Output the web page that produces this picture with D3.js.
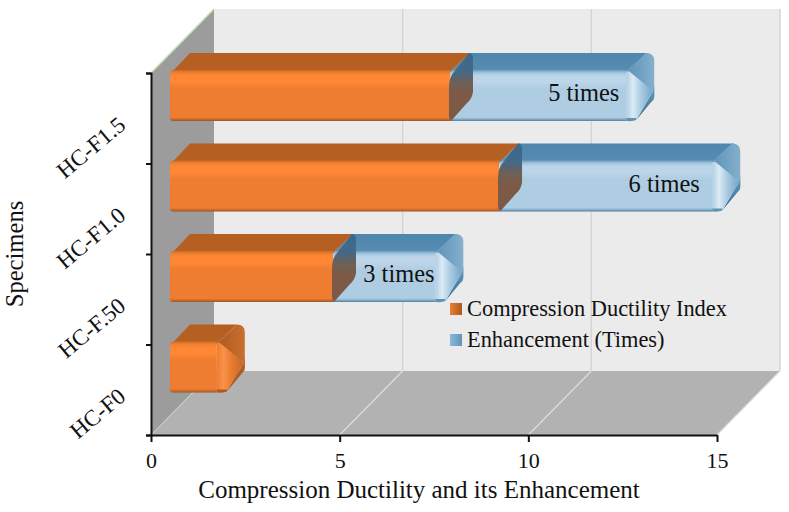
<!DOCTYPE html>
<html><head><meta charset="utf-8">
<script src="https://cdn.jsdelivr.net/npm/d3@7"></script>
<style>html,body{margin:0;padding:0;background:#fff}svg{display:block}text{font-family:"Liberation Serif","Times New Roman",serif;fill:#111}</style>
</head><body><svg id="c" width="789" height="512"></svg>
<script>
const categories=["HC-F1.5","HC-F1.0","HC-F.50","HC-F0"];
const ductility=[7.42,8.72,4.32,1.4];
const enhancement=[4.83,5.81,2.87,0];
const barLabels=["5 times","6 times","3 times",""];
const labelCentres=[11.47,13.6,6.57,0];
const xTicks=[0,5,10,15];
const seriesNames=["Compression Ductility Index","Enhancement (Times)"];
const x=d3.scaleLinear().domain([0,15]).range([151,717]);
const y=d3.scaleBand().domain(categories).range([73,435]);
const DX=63,DY=64,bdx=20,bdy=17,bo=19;
const svg=d3.select("#c");
const defs=svg.append("defs");
defs.append("filter").attr("id","soft").attr("x","-5%").attr("y","-5%").attr("width","110%").attr("height","110%")
  .append("feGaussianBlur").attr("stdDeviation",0.7);
function lg(id,stops,vert=true){const g=defs.append("linearGradient").attr("id",id).attr("x1",0).attr("y1",0).attr("x2",vert?0:1).attr("y2",vert?1:0);
 stops.forEach(s=>g.append("stop").attr("offset",s[0]).attr("stop-color",s[1]));}
lg("oF",[[0,"#c96c2a"],[.06,"#f4812f"],[.12,"#ff8734"],[.24,"#ff8734"],[.36,"#ee7d31"],[.93,"#ee7d31"],[.98,"#bb6226"],[1,"#96522a"]]);
lg("oT",[[0,"#b55e22"],[.85,"#b55e22"],[1,"#c96c2a"]]);
lg("bF",[[0,"#6b9dc0"],[.06,"#a6c7e0"],[.12,"#bcd5e8"],[.24,"#bcd5e8"],[.36,"#aecde3"],[.93,"#aecde3"],[.98,"#6f9cbc"],[1,"#4a7a9c"]]);
lg("bT",[[0,"#4f86ad"],[.85,"#568bb2"],[1,"#6b9dc0"]]);
lg("cap",[[0,"#3c6a8c"],[.25,"#41698a"],[.45,"#6f6055"],[.6,"#7b5a46"],[1,"#7b5a46"]]);
lg("oS",[[0,"#ee7d31"],[.25,"#fb9148"],[.55,"#e97b30"],[1,"#c2672a"]],false);
lg("bS",[[0,"#aecde3"],[.25,"#dcebf5"],[.55,"#a9cbe2"],[1,"#74a4c5"]],false);
lg("oU",[[0,"#ad5a22"],[1,"#c9702e"]],false);
lg("bU",[[0,"#5c92b8"],[1,"#85b0cc"]],false);
lg("oR",[[0,"#bb6426"],[1,"#a05420"]]);
lg("bR",[[0,"#6a9dbf"],[1,"#336a90"]]);

const bx0=x(0)+DX,bx1=x(15)+DX,by0=y.range()[0]-DY,by1=y.range()[1]-DY,fy=y.range()[1];
const poly=p=>"M"+p.join("L")+"Z";
svg.append("path").attr("d",poly([[bx0,by0],[bx1,by0],[bx1,by1],[bx0,by1]])).attr("fill","#ebebeb");
svg.append("path").attr("d",poly([[x(0),y.range()[0]],[bx0,by0],[bx0,by1],[x(0),fy]])).attr("fill","#9c9c9c");
svg.append("path").attr("d",poly([[x(0),fy],[bx0,by1],[bx1,by1],[x(15),fy]])).attr("fill","#b2b2b2");
xTicks.forEach(t=>{
  if(t>0){
    svg.append("line").attr("x1",x(t)+DX).attr("x2",x(t)+DX).attr("y1",by0).attr("y2",by1).attr("stroke","#d4d4d4").attr("stroke-width",1.4);
    svg.append("line").attr("x1",x(t)).attr("y1",fy).attr("x2",x(t)+DX).attr("y2",by1).attr("stroke","#dedede").attr("stroke-width",1.2);
  }
});
svg.append("line").attr("x1",x(0)).attr("y1",y.range()[0]).attr("x2",bx0).attr("y2",by0).attr("stroke","#c5e0b4").attr("stroke-width",1.4);
svg.append("line").attr("x1",x(0)).attr("y1",fy).attr("x2",bx0).attr("y2",by1).attr("stroke","#c5e0b4").attr("stroke-width",1);

const bp=v=>x(v)+bo;
const H=51;
function seg(g,a,b,t,front,top,roundLeft){
  const bot=t+H;
  const topPath=roundLeft
    ?`M${a+2},${t+2}L${a+bdx},${t-bdy}L${b+bdx},${t-bdy}L${b},${t+2}Z`
    :`M${a},${t+2}L${a+bdx},${t-bdy}L${b+bdx},${t-bdy}L${b},${t+2}Z`;
  g.append("path").attr("d",topPath).attr("fill",`url(#${top})`);
  const frontPath=roundLeft
    ?`M${a+4},${t}L${b},${t}L${b},${bot}L${a+3},${bot}Q${a},${bot} ${a},${bot-3}L${a},${t+5}Q${a},${t} ${a+4},${t}Z`
    :`M${a},${t}L${b},${t}L${b},${bot}L${a},${bot}Z`;
  g.append("path").attr("d",frontPath).attr("fill",`url(#${front})`);
}
function endCap(g,b,t,c){
  const bot=t+H,e=b+bdx+2,cx=e-1,cy=t+21;
  g.append("path").attr("d",`M${b-6},${t+2}L${e-8},${t-bdy}Q${e},${t-bdy} ${e},${t-bdy+8}L${e},${cy+6}L${cx},${cy}Z`).attr("fill",`url(#${c.up})`);
  g.append("path").attr("d",`M${cx},${cy}L${e},${cy-6}L${e},${cy+6}Q${e},${cy+9} ${e-3},${cy+11}L${b+4},${bot-1}Z`).attr("fill",`url(#${c.right})`);
  g.append("path").attr("d",`M${b-6},${t+2}Q${b-3},${t} ${b-1},${t+3}L${cx},${cy}L${b+4},${bot-1}Q${b},${bot+0.5} ${b-4},${bot}L${b-6},${bot}Z`).attr("fill",`url(#${c.side})`);
  g.append("path").attr("d",`M${b-6},${bot-3}L${b+4},${bot-3}L${b+4},${bot-1}Q${b},${bot+0.5} ${b-4},${bot}L${b-6},${bot}Z`).attr("fill",c.low);
}
const orangeCap={up:"oU",right:"oR",side:"oS",low:"#a85a24"};
const blueCap={up:"bU",right:"bR",side:"bS",low:"#5f92b5"};
categories.forEach((c,i)=>{
  const top=y(c)-3;
  const g=svg.append("g").attr("filter","url(#soft)");
  const a=bp(0),m=bp(ductility[i]),z=bp(ductility[i]+enhancement[i]);
  if(enhancement[i]>0){
    seg(g,m,z-6,top,"bF","bT",false);
    g.append("path").attr("d",`M${z-6},${top+2}L${z-6+bdx},${top-bdy}L${z-4+bdx},${top-bdy}L${z-6},${top+2}Z`).attr("fill","url(#bT)");
    endCap(g,z,top,blueCap);
    seg(g,a,m,top,"oF","oT",true);
    g.append("path").attr("d",`M${m+1},${top+H}Q${m-1},${top+H-2} ${m-1},${top+H-5}L${m-1},${top+18}Q${m-1},${top+7} ${m+4},${top+2}L${m+bdx-1},${top-bdy}Q${m+bdx+3},${top-bdy} ${m+bdx+3},${top-bdy+5}L${m+bdx+3},${top+22}Q${m+bdx+2},${top+29} ${m+bdx-3},${top+33}Z`).attr("fill","url(#cap)");
  } else {
    seg(g,a,m-6,top,"oF","oT",true);
    endCap(g,m,top,orangeCap);
  }
  if(barLabels[i]) svg.append("text").attr("x",x(labelCentres[i])).attr("y",top+31).attr("text-anchor","middle").attr("font-size",24.4).text(barLabels[i]);
});

const gx=svg.append("g").attr("transform",`translate(0,${fy})`).call(d3.axisBottom(x).tickValues(xTicks).tickSize(7).tickSizeOuter(0));
gx.selectAll("path,line").attr("stroke","#111").attr("stroke-width",2);
gx.selectAll("text").attr("font-size",22).attr("font-family","Liberation Serif").attr("y",23).attr("dy","10");
const gy=svg.append("g").attr("transform",`translate(${x(0)},0)`).call(d3.axisLeft(d3.scaleLinear().domain([0,4]).range([fy,73])).ticks(4).tickSize(5).tickFormat(""));
gy.selectAll("path,line").attr("stroke","#111").attr("stroke-width",2);
categories.forEach(c=>{
  const cy=y(c)+y.bandwidth()/2;
  svg.append("text").attr("transform",`translate(127,${cy+9}) rotate(-40)`).attr("text-anchor","end").attr("font-size",23).text(c);
});
svg.append("text").attr("transform","translate(23,254) rotate(-90)").attr("text-anchor","middle").attr("font-size",24.6).text("Specimens");
svg.append("text").attr("x",419).attr("y",498).attr("text-anchor","middle").attr("font-size",25).text("Compression Ductility and its Enhancement");

lg("lo",[[0,"#e88030"],[1,"#a85a20"]],false);
lg("lb",[[0,"#8fb9d6"],[1,"#5f93b8"]],false);
seriesNames.forEach((n,i)=>{
  const ly=309+i*31;
  svg.append("rect").attr("x",450).attr("y",ly-6).attr("width",12).attr("height",12).attr("fill",i?"url(#lb)":"url(#lo)");
  svg.append("text").attr("x",467).attr("y",ly+7).attr("font-size",22.4).text(n);
});
</script></body></html>
